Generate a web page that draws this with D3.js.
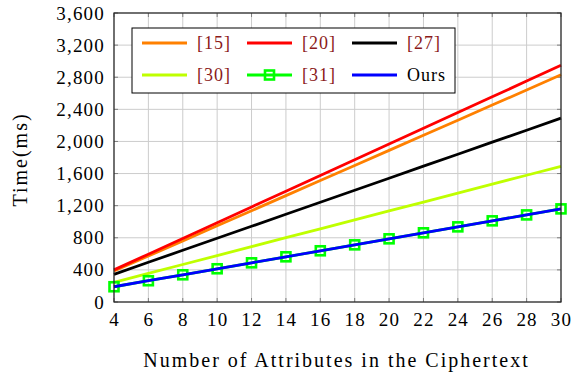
<!DOCTYPE html>
<html>
<head>
<meta charset="utf-8">
<script src="https://cdn.jsdelivr.net/npm/d3@7"></script>
<style>
  body { margin: 0; background: #fff; }
  text { font-family: "Liberation Serif", serif; }
</style>
</head>
<body>
<svg id="chart" width="573" height="378"></svg>
<script>
// attributes on the x axis
const attributes = [4, 6, 8, 10, 12, 14, 16, 18, 20, 22, 24, 26, 28, 30];
const yTicks = [0, 400, 800, 1200, 1600, 2000, 2400, 2800, 3200, 3600];

// time (ms)
const ref15 = [385, 573, 761, 949, 1137, 1325, 1513, 1701, 1889, 2077, 2265, 2453, 2641, 2830];
const ref20 = [400, 596, 792, 988, 1184, 1380, 1576, 1772, 1968, 2164, 2360, 2556, 2752, 2950];
const ref27 = [345, 495, 644, 794, 943, 1093, 1243, 1392, 1542, 1692, 1841, 1991, 2140, 2290];
const ref30 = [245, 356, 467, 578, 690, 801, 912, 1023, 1134, 1245, 1357, 1468, 1579, 1690];
const ref31 = [190, 265, 339, 414, 488, 563, 638, 712, 787, 862, 936, 1011, 1085, 1160];
const ours  = [190, 265, 339, 414, 488, 563, 638, 712, 787, 862, 936, 1011, 1085, 1160];

const series = [
  { key: '[15]', values: ref15, color: '#ff8000', cite: true },
  { key: '[20]', values: ref20, color: '#ff0000', cite: true },
  { key: '[27]', values: ref27, color: '#000000', cite: true },
  { key: '[30]', values: ref30, color: '#bfff00', cite: true },
  { key: '[31]', values: ref31, color: '#00ff00', cite: true, mark: true },
  { key: 'Ours', values: ours,  color: '#0000ff', cite: false }
];

const margin = { top: 13, right: 12, bottom: 76, left: 114 };
const W = 573, H = 378;
const width = W - margin.left - margin.right;
const height = H - margin.top - margin.bottom;
const fontSize = 19;
const spacing = '1.2px';

const svg = d3.select('#chart');
const g = svg.append('g').attr('transform', `translate(${margin.left},${margin.top})`);

const x = d3.scaleLinear().domain([4, 30]).range([0, width]);
const y = d3.scaleLinear().domain([0, 3600]).range([height, 0]);

// grid
g.append('g').attr('class', 'grid')
  .selectAll('line.gx').data(attributes).enter().append('line')
  .attr('x1', d => x(d)).attr('x2', d => x(d))
  .attr('y1', 0).attr('y2', height)
  .attr('stroke', '#cccccc').attr('stroke-width', 1);
g.select('g.grid')
  .selectAll('line.gy').data(yTicks).enter().append('line')
  .attr('x1', 0).attr('x2', width)
  .attr('y1', d => y(d)).attr('y2', d => y(d))
  .attr('stroke', '#cccccc').attr('stroke-width', 1);

// inner ticks on all four sides
const tickLen = 4;
const ticks = g.append('g').attr('stroke', '#7f7f7f').attr('stroke-width', 1);
attributes.forEach(d => {
  ticks.append('line').attr('x1', x(d)).attr('x2', x(d)).attr('y1', height).attr('y2', height - tickLen);
  ticks.append('line').attr('x1', x(d)).attr('x2', x(d)).attr('y1', 0).attr('y2', tickLen);
});
yTicks.forEach(d => {
  ticks.append('line').attr('x1', 0).attr('x2', tickLen).attr('y1', y(d)).attr('y2', y(d));
  ticks.append('line').attr('x1', width).attr('x2', width - tickLen).attr('y1', y(d)).attr('y2', y(d));
});

// tick labels via d3 axes
const xAxis = g.append('g')
  .attr('transform', `translate(0,${height})`)
  .call(d3.axisBottom(x).tickValues(attributes).tickSize(0).tickPadding(11));
const yAxis = g.append('g')
  .call(d3.axisLeft(y).tickValues(yTicks).tickFormat(d3.format(',')).tickSize(0).tickPadding(9));
[xAxis, yAxis].forEach(a => {
  a.select('.domain').remove();
  a.selectAll('text')
    .attr('font-family', '"Liberation Serif", serif')
    .attr('font-size', fontSize)
    .attr('letter-spacing', spacing)
    .attr('fill', '#000');
});

// lines
const line = d3.line()
  .x((d, i) => x(attributes[i]))
  .y(d => y(d));

series.forEach(s => {
  g.append('path')
    .datum(s.values)
    .attr('d', line)
    .attr('fill', 'none')
    .attr('stroke', s.color)
    .attr('stroke-width', 2.8);
  if (s.mark) {
    g.append('g')
      .selectAll('rect').data(s.values).enter().append('rect')
      .attr('x', (d, i) => x(attributes[i]) - 4.5)
      .attr('y', d => y(d) - 4.5)
      .attr('width', 9).attr('height', 9)
      .attr('fill', 'none')
      .attr('stroke', s.color)
      .attr('stroke-width', 2.6);
  }
});

// axis box
g.append('rect')
  .attr('x', 0).attr('y', 0)
  .attr('width', width).attr('height', height)
  .attr('fill', 'none').attr('stroke', '#222').attr('stroke-width', 1.2);

// legend
const legend = svg.append('g').attr('transform', 'translate(132,28)');
legend.append('rect')
  .attr('width', 323).attr('height', 65)
  .attr('fill', '#fff').attr('stroke', '#000').attr('stroke-width', 1);
const items = legend.selectAll('g.legend').data(series).enter().append('g')
  .attr('class', 'legend')
  .attr('transform', (d, i) => `translate(${10 + (i % 3) * 105},${i < 3 ? 15 : 47})`);
items.append('line')
  .attr('x1', 0).attr('x2', 45)
  .attr('stroke', d => d.color).attr('stroke-width', 3);
items.filter(d => d.mark).append('rect')
  .attr('x', 18).attr('y', -4.5).attr('width', 9).attr('height', 9)
  .attr('fill', 'none').attr('stroke', d => d.color).attr('stroke-width', 2.6);
items.append('text')
  .attr('x', 55).attr('dy', '0.35em')
  .attr('font-size', 18)
  .attr('letter-spacing', '1px')
  .attr('fill', d => d.cite ? '#8b1a1a' : '#000')
  .text(d => d.key);

// axis titles
svg.append('text')
  .attr('x', margin.left + width / 2 - 1).attr('y', 367)
  .attr('text-anchor', 'middle')
  .attr('font-size', 20).attr('letter-spacing', '2px')
  .text('Number of Attributes in the Ciphertext');
svg.append('text')
  .attr('transform', `translate(27,${margin.top + height / 2 + 2}) rotate(-90)`)
  .attr('text-anchor', 'middle')
  .attr('font-size', 20).attr('letter-spacing', '2px')
  .text('Time(ms)');
</script>
</body>
</html>
